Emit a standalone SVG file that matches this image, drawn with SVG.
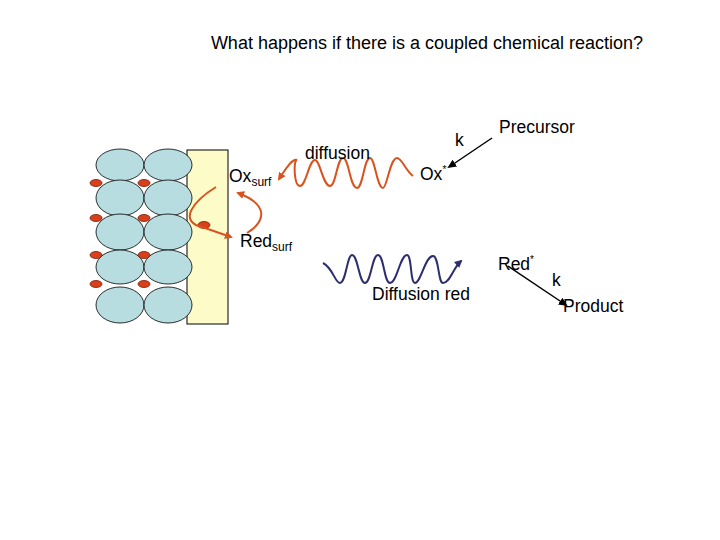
<svg xmlns="http://www.w3.org/2000/svg" width="720" height="540" viewBox="0 0 720 540">
<style>
text{font-family:"Liberation Sans",Arial,sans-serif;fill:#000}
.c{fill:#b7dde0;stroke:#000;stroke-width:0.8}
.d{fill:#d8401c;stroke:#7a1a00;stroke-width:0.8}
.o{fill:none;stroke:#d9531e;stroke-width:2}
</style>
<defs>
<marker id="ao" markerWidth="8" markerHeight="8" refX="6" refY="4" orient="auto" markerUnits="userSpaceOnUse"><path d="M0,0L8,4L0,8z" fill="#d9531e"/></marker>
<marker id="ab" markerWidth="8" markerHeight="8" refX="6" refY="4" orient="auto" markerUnits="userSpaceOnUse"><path d="M0,0L8,4L0,8z" fill="#2e2e6e"/></marker>
<marker id="ak" markerWidth="9" markerHeight="8" refX="7" refY="4" orient="auto" markerUnits="userSpaceOnUse"><path d="M0,0L9,4L0,8z" fill="#000"/></marker>
</defs>
<text x="427" y="49" font-size="18" text-anchor="middle">What happens if there is a coupled chemical reaction?</text>
<g id="electrode">
<rect x="187" y="150" width="41" height="174" fill="#fdfbc8" stroke="#000"/>
<ellipse class="c" cx="120" cy="165" rx="24" ry="16"/><ellipse class="c" cx="168" cy="165" rx="24" ry="16"/>
<ellipse class="c" cx="120" cy="198" rx="24" ry="18"/><ellipse class="c" cx="168" cy="198" rx="24" ry="18"/>
<ellipse class="c" cx="120" cy="232" rx="24" ry="18"/><ellipse class="c" cx="168" cy="232" rx="24" ry="18"/>
<ellipse class="c" cx="120" cy="267" rx="24" ry="17"/><ellipse class="c" cx="168" cy="267" rx="24" ry="17"/>
<ellipse class="c" cx="120" cy="305" rx="24" ry="18"/><ellipse class="c" cx="168" cy="305" rx="24" ry="18"/>
<ellipse class="d" cx="96" cy="183" rx="6" ry="3.5"/><ellipse class="d" cx="144" cy="183" rx="6" ry="3.5"/>
<ellipse class="d" cx="96" cy="218" rx="6" ry="3.5"/><ellipse class="d" cx="144" cy="218" rx="6" ry="3.5"/>
<ellipse class="d" cx="96" cy="255" rx="6" ry="3.5"/><ellipse class="d" cx="144" cy="255" rx="6" ry="3.5"/>
<ellipse class="d" cx="96" cy="284" rx="6" ry="3.5"/><ellipse class="d" cx="144" cy="284" rx="6" ry="3.5"/>
<ellipse class="d" cx="204" cy="225" rx="6" ry="3.5"/>
</g>
<g id="connectors">
<path class="o" d="M216,187 C195,200 175,222 205,228 L231,237" marker-end="url(#ao)"/>
<path class="o" d="M247,233 C265,222 270,205 238,193" marker-end="url(#ao)"/>
<path class="o" d="M413,176 C405,170 402,158 397,158 C390,158 387,188 383,188 C377,188 375,158 370,158 C364,158 363,188 357,188 C350,188 349,158 343,158 C337,158 336,186 330,186 C323,186 320,160 315,160 C309,160 306,186 300,186 C294,186 293,160 297,160 C292,158 285,170 279,179" marker-end="url(#ao)"/>
<path d="M323,263 C333,268 335,283 340,283 C346,283 347,255 352,255 C358,255 359,283 365,283 C371,283 372,255 378,255 C384,255 384,283 390,283 C397,283 400,255 407,255 C412,255 410,283 415,283 C421,283 425,256 433,256 C439,256 438,283 443,283 C450,283 453,268 461,261" fill="none" stroke="#2e2e6e" stroke-width="2" marker-end="url(#ab)"/>
<path d="M492,138 L449,167" stroke="#000" stroke-width="1.5" marker-end="url(#ak)"/>
<path d="M508,266 L566,305" stroke="#000" stroke-width="1.5" marker-end="url(#ak)"/>
</g>
<g id="labels" font-size="17.5">
<text x="229" y="182">Ox<tspan font-size="12" dy="4">surf</tspan></text>
<text x="240" y="247">Red<tspan font-size="12" dy="4">surf</tspan></text>
<text x="305" y="159">diffusion</text>
<text x="455" y="146">k</text>
<text x="499" y="133">Precursor</text>
<text x="420" y="180">Ox<tspan font-size="10" dy="-7">*</tspan></text>
<text x="498" y="270">Red<tspan font-size="10" dy="-7">*</tspan></text>
<text x="552" y="286">k</text>
<text x="563" y="312">Product</text>
<text x="372" y="300">Diffusion red</text>
</g>
</svg>
